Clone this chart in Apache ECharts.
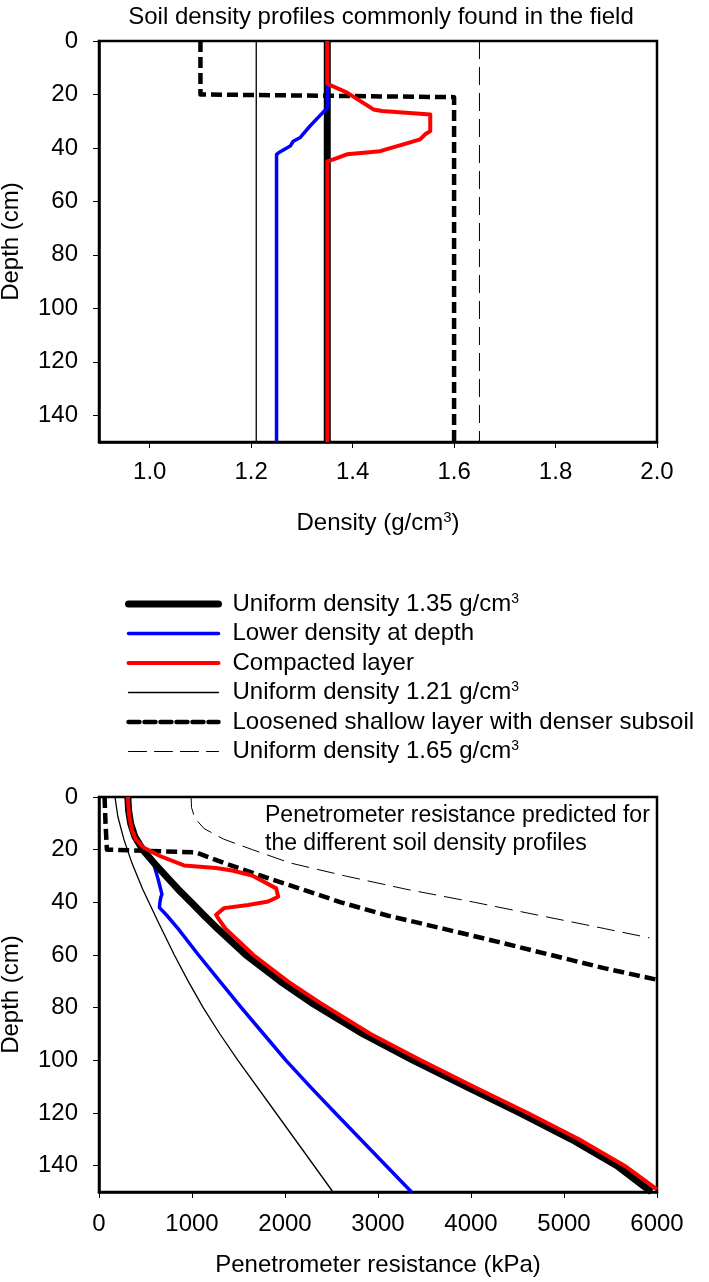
<!DOCTYPE html>
<html><head><meta charset="utf-8">
<script src="https://cdn.jsdelivr.net/npm/echarts@6/dist/echarts.min.js"></script>
<style>html,body{margin:0;padding:0;background:#fff}#c{width:709px;height:1282px}</style>
</head><body><div id="c"></div>
<script>
const FONT = '"Liberation Sans", Arial, sans-serif';

// ---- series names ----
const N_U135 = 'Uniform density 1.35 g/cm3';
const N_LOW = 'Lower density at depth';
const N_COMP = 'Compacted layer';
const N_U121 = 'Uniform density 1.21 g/cm3';
const N_LOOSE = 'Loosened shallow layer with denser subsoil';
const N_U165 = 'Uniform density 1.65 g/cm3';

// ---- tick labels ----
const densityTicks = [1.0, 1.2, 1.4, 1.6, 1.8, 2.0];
const depthTicks = [0, 20, 40, 60, 80, 100, 120, 140];
const resistanceTicks = [0, 1000, 2000, 3000, 4000, 5000, 6000];

// ---- top chart: density (g/cm3) vs depth (cm) ----
const u135Depth = [0, 150];
const u135Dens = [1.35, 1.35];
const lowDepth = [0, 25, 31.8, 36.2, 37.5, 39.3, 41.8, 42.5, 150];
const lowDens = [1.35, 1.35, 1.316, 1.296, 1.283, 1.277, 1.254, 1.25, 1.25];
const compDepth = [0, 16, 19.3, 25.6, 26.2, 27.5, 33.7, 34.9, 36.8, 38.7, 41.2, 42.4, 44.3, 45, 150];
const compDens = [1.35, 1.35, 1.389, 1.441, 1.458, 1.553, 1.553, 1.543, 1.533, 1.5, 1.454, 1.389, 1.362, 1.35, 1.35];
const u121Depth = [0, 150];
const u121Dens = [1.21, 1.21];
const looseDepth = [0, 20, 21, 150];
const looseDens = [1.1, 1.1, 1.6, 1.6];
const u165Depth = [0, 150];
const u165Dens = [1.65, 1.65];

// ---- bottom chart: penetrometer resistance (kPa) vs depth (cm) ----
const prU135Depth = [0, 5, 10, 15, 20, 25, 30, 35, 40, 45, 50, 60, 70, 78, 90, 100, 110, 120, 130, 140, 150];
const prU135 = [310, 318, 340, 385, 470, 590, 720, 850, 990, 1130, 1275, 1580, 1950, 2280, 2840, 3380, 3950, 4530, 5080, 5570, 5940];
const prLowDepth = [0, 5, 10, 15, 20, 25, 31, 37, 38, 40, 42, 45, 50, 60, 70, 80, 90, 100, 110, 120, 135, 150];
const prLow = [310, 318, 340, 385, 470, 585, 634, 677, 665, 655, 650, 730, 850, 1070, 1300, 1530, 1770, 2010, 2270, 2540, 2950, 3360];
const prCompDepth = [0, 6.8, 12.4, 16.1, 19.3, 22.4, 26, 27, 27.9, 29.8, 34.7, 37.9, 39.7, 41, 42.2, 44.7, 46, 50, 60, 70, 78, 90, 100, 110, 120, 130, 140, 149];
const prComp = [310, 323, 353, 397, 483, 655, 914, 1259, 1431, 1647, 1905, 1927, 1819, 1603, 1345, 1259, 1280, 1360, 1660, 2030, 2370, 2920, 3460, 4030, 4610, 5160, 5650, 6000];
const prU121Depth = [0, 7.5, 16, 25, 35, 47, 60, 70, 80, 90, 100, 120, 135, 150];
const prU121 = [172, 203, 267, 353, 470, 630, 810, 960, 1120, 1300, 1494, 1903, 2210, 2516];
const prLooseDepth = [0, 10, 20, 21, 25, 30, 35, 40, 45, 50, 55, 60, 65, 69.4];
const prLoose = [60, 70, 85, 1040, 1340, 1750, 2180, 2600, 3100, 3700, 4290, 4860, 5430, 6000];
const prU165Depth = [0, 4, 8, 12, 16, 20, 25, 30, 35, 40, 45, 50, 53.5];
const prU165 = [990, 995, 1030, 1130, 1340, 1650, 2050, 2650, 3300, 4040, 4740, 5440, 5920];

const pts = (vals, depths) => depths.map((d, i) => [vals[i], d]);

const STY = {};
STY[N_U135] = {color: '#000000', width: 7, type: 'solid'};
STY[N_LOW] = {color: '#0000ff', width: 3.5, type: 'solid'};
STY[N_COMP] = {color: '#ff0000', width: 4, type: 'solid'};
STY[N_U121] = {color: '#000000', width: 1.3, type: 'solid'};
STY[N_LOOSE] = {color: '#000000', width: 4.5, type: [11, 5]};
STY[N_U165] = {color: '#000000', width: 1, type: [18, 8]};

function mk(name, data, gi) {
  const s = STY[name];
  return {
    type: 'line', name: name, data: data, xAxisIndex: gi, yAxisIndex: gi,
    symbol: 'none', showSymbol: false, smooth: false, animation: false,
    color: s.color,
    lineStyle: {color: s.color, width: s.width, type: s.type, cap: 'butt', join: 'round'},
    emphasis: {disabled: true}
  };
}

const series = [
  mk(N_U135, pts(u135Dens, u135Depth), 0),
  mk(N_U121, pts(u121Dens, u121Depth), 0),
  mk(N_U165, pts(u165Dens, u165Depth), 0),
  mk(N_LOOSE, pts(looseDens, looseDepth), 0),
  mk(N_LOW, pts(lowDens, lowDepth), 0),
  mk(N_COMP, pts(compDens, compDepth), 0),
  mk(N_U121, pts(prU121, prU121Depth), 1),
  mk(N_U165, pts(prU165, prU165Depth), 1),
  mk(N_LOOSE, pts(prLoose, prLooseDepth), 1),
  mk(N_LOW, pts(prLow, prLowDepth), 1),
  mk(N_U135, pts(prU135, prU135Depth), 1),
  mk(N_COMP, pts(prComp, prCompDepth), 1)
];

const FS = 24;
const supRich = {sup: {fontSize: 15, fontFamily: FONT, color: '#000', verticalAlign: 'bottom', padding: [0, 0, 11, 0]}};

function yAx(gi) {
  return {
    type: 'value', gridIndex: gi, inverse: true, min: 0, max: 150,
    name: 'Depth (cm)', nameLocation: 'middle', nameGap: 76, nameRotate: 90,
    nameTextStyle: {fontFamily: FONT, fontSize: FS, color: '#000'},
    axisLine: {show: true, lineStyle: {color: '#000', width: 2.5}},
    axisTick: {show: true, inside: false, length: 6, lineStyle: {color: '#000', width: 1}, customValues: depthTicks},
    axisLabel: {fontFamily: FONT, fontSize: FS, color: '#000', margin: 21, customValues: depthTicks},
    splitLine: {show: false}
  };
}

const option = {
  animation: false,
  backgroundColor: '#ffffff',
  title: [
    {text: 'Soil density profiles commonly found in the field', left: 376, top: 0, textAlign: 'center',
     textStyle: {fontFamily: FONT, fontSize: FS, fontWeight: 'normal', color: '#000'}},
    {text: 'Penetrometer resistance predicted for\nthe different soil density profiles', left: 260, top: 797,
     textStyle: {fontFamily: FONT, fontSize: 23, fontWeight: 'normal', color: '#000', lineHeight: 28}}
  ],
  legend: {
    orient: 'vertical', left: 120, top: 586, itemWidth: 90, itemHeight: 14, itemGap: 3.5,
    selectedMode: false,
    data: [N_U135, N_LOW, N_COMP, N_U121, N_LOOSE, N_U165],
    formatter: n => n.replace(/cm3$/, 'cm{sup|3}'),
    itemStyle: {color: 'rgba(0,0,0,0)', borderWidth: 0, opacity: 0},
    lineStyle: {width: 'inherit', type: 'inherit', color: 'inherit', cap: 'round'},
    textStyle: {fontFamily: FONT, fontSize: FS, color: '#000', lineHeight: 26, padding: [0, 0, 0, 9],
      rich: {sup: {fontSize: 14, fontFamily: FONT, color: '#000', verticalAlign: 'bottom', padding: [0, 0, 11, 0]}}}
  },
  grid: [
    {left: 99, right: 52, top: 41, height: 401, show: true, borderColor: '#000', borderWidth: 2.5, backgroundColor: 'transparent', containLabel: false, outerBoundsMode: 'none'},
    {left: 99, right: 52, top: 797, height: 395, show: true, borderColor: '#000', borderWidth: 2.5, backgroundColor: 'transparent', containLabel: false, outerBoundsMode: 'none'}
  ],
  xAxis: [
    {type: 'value', gridIndex: 0, min: 0.9, max: 2.0,
     name: 'Density (g/cm{sup|3})', nameLocation: 'middle', nameGap: 68,
     nameTextStyle: {fontFamily: FONT, fontSize: FS, color: '#000', rich: supRich},
     axisLine: {show: true, onZero: false, lineStyle: {color: '#000', width: 2.5}},
     axisTick: {show: true, length: 6, lineStyle: {color: '#000', width: 1}, customValues: densityTicks},
     axisLabel: {fontFamily: FONT, fontSize: FS, color: '#000', margin: 18, customValues: densityTicks, formatter: v => Number(v).toFixed(1)},
     splitLine: {show: false}},
    {type: 'value', gridIndex: 1, min: 0, max: 6000, interval: 1000,
     name: 'Penetrometer resistance (kPa)', nameLocation: 'middle', nameGap: 61,
     nameTextStyle: {fontFamily: FONT, fontSize: FS, color: '#000'},
     axisLine: {show: true, onZero: false, lineStyle: {color: '#000', width: 2.5}},
     axisTick: {show: true, length: 6, lineStyle: {color: '#000', width: 1}, customValues: resistanceTicks},
     axisLabel: {fontFamily: FONT, fontSize: FS, color: '#000', margin: 20, customValues: resistanceTicks, formatter: v => String(v)},
     splitLine: {show: false}}
  ],
  yAxis: [yAx(0), yAx(1)],
  series: series
};

const chart = echarts.init(document.getElementById('c'), null, {renderer: 'canvas'});
chart.setOption(option);
</script>
</body></html>
